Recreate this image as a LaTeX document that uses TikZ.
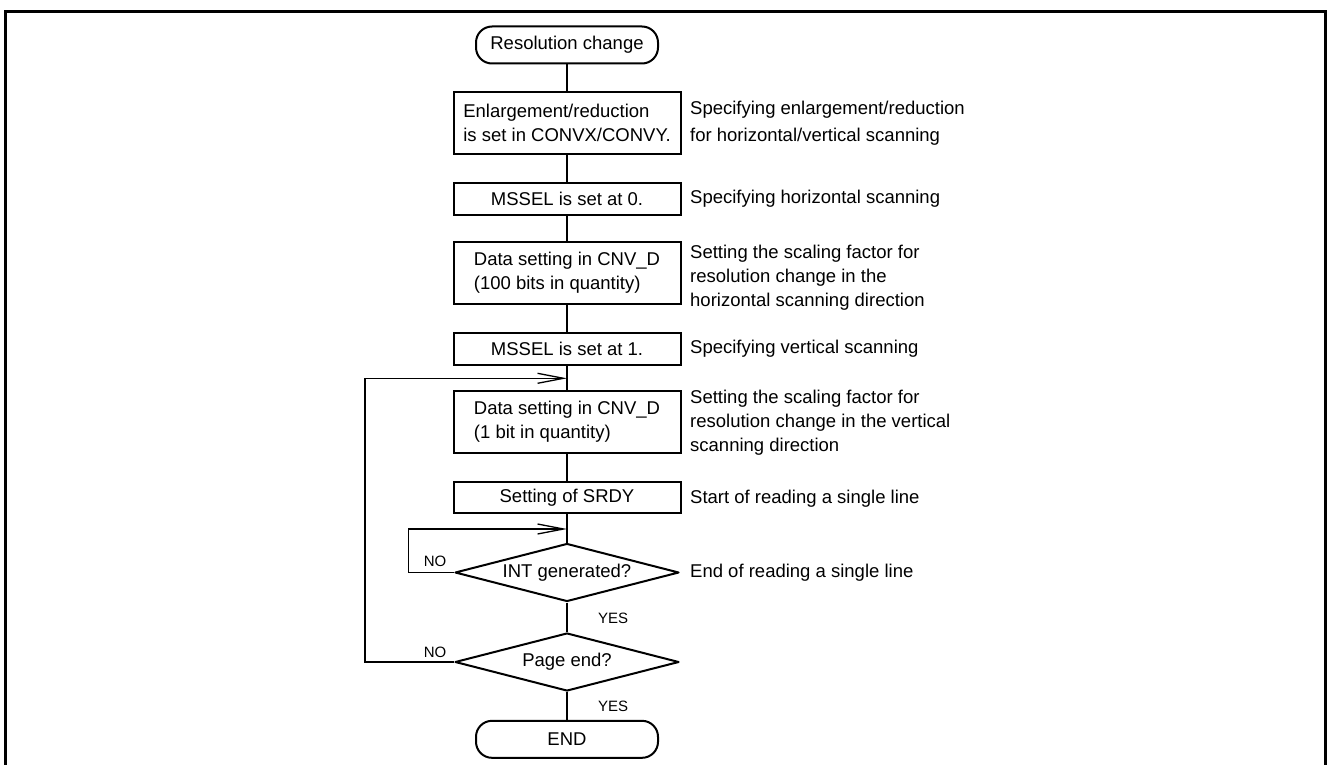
\documentclass[tikz,border=0pt]{standalone}
\usepackage{fontspec}
\setmainfont{Liberation Sans}
\usepackage{tikz}
\usetikzlibrary{positioning}
\usetikzlibrary{shapes.geometric}
\usetikzlibrary{arrows.meta}

\begin{document}
\begin{tikzpicture}[x=1pt,y=-1pt]

          \tikzstyle{termNode} = [draw, line width=2pt, rounded corners=16pt, minimum width=182pt, minimum height=37pt, inner sep=0pt, font=\fontsize{18.5}{24}\selectfont];
          \tikzstyle{stepNode} = [draw, line width=2pt, minimum width=227pt, inner sep=0pt, align=left, font=\fontsize{18.5}{24}\selectfont];
          \tikzstyle{testNode} = [draw, diamond, line width=2pt, line join=round, aspect=3.86, minimum width=224pt, minimum height=58pt, inner sep=0pt, font=\fontsize{18.5}{24}\selectfont];
          \tikzstyle{noteNode} = [anchor=west, inner sep=0pt, align=left, font=\fontsize{18.5}{24}\selectfont];
          \tikzstyle{labelNode} = [inner sep=0pt, font=\fontsize{15}{18}\selectfont];

          \tikzstyle{normalEdge} = [line width=1.3pt];
          \tikzstyle{loopEdge} = [line width=1.3pt, -{Straight Barb[length=26pt,width=10pt]}];

          \useasboundingbox (0,0) rectangle (1327,765);
          \draw[line width=3pt] (5.3,765) -- (5.3,11.3) -- (1325.5,11.3) -- (1325.5,765);

          % main column
          \node[termNode] (start) at (567,45) {Resolution change};
          \node[stepNode, minimum height=62pt] (conv) at (567,123.3) {Enlargement/reduction\\is set in CONVX/CONVY.};
          \node[stepNode, minimum height=32pt] (hsel) at (567,199.2) {MSSEL is set at 0.};
          \node[stepNode, minimum height=62pt] (hdata) at (567,273.2) {Data setting in CNV\_D\\(100 bits in quantity)};
          \node[stepNode, minimum height=32pt] (vsel) at (567,348.5) {MSSEL is set at 1.};
          \node[stepNode, minimum height=62pt] (vdata) at (567,422.2) {Data setting in CNV\_D\\(1 bit in quantity)};
          \node[stepNode, minimum height=31pt] (srdy) at (567,497.8) {Setting of SRDY};
          \node[testNode] (intq) at (567,572.5) {INT generated?};
          \node[testNode] (pageq) at (567,662) {Page end?};
          \node[termNode] (finish) at (567,739.3) {END};

          % notes on the right
          \node[noteNode] (convNote) at (690,123.3) {Specifying enlargement/reduction\\[2.7pt]for horizontal/vertical scanning};
          \node[noteNode] (hselNote) at (690,199.2) {Specifying horizontal scanning};
          \node[noteNode] (hdataNote) at (690,277.5) {Setting the scaling factor for\\resolution change in the\\horizontal scanning direction};
          \node[noteNode] (vselNote) at (690,348.5) {Specifying vertical scanning};
          \node[noteNode] (vdataNote) at (690,423) {Setting the scaling factor for\\resolution change in the vertical\\scanning direction};
          \node[noteNode] (srdyNote) at (690,498.5) {Start of reading a single line};
          \node[noteNode] (intNote) at (690,572.5) {End of reading a single line};

          % branch labels
          \node[labelNode] (intNo) at (435,561.5) {NO};
          \node[labelNode] (intYes) at (613,618) {YES};
          \node[labelNode] (pageNo) at (435,652) {NO};
          \node[labelNode] (pageYes) at (613,706.5) {YES};

          \coordinate (outerTurn) at (365,378.3);
          \coordinate (outerJoin) at (567,378.3);
          \coordinate (innerTurn) at (408.3,529);
          \coordinate (innerJoin) at (567,529);

          \draw[normalEdge] (start) -- (conv);
          \draw[normalEdge] (conv) -- (hsel);
          \draw[normalEdge] (hsel) -- (hdata);
          \draw[normalEdge] (hdata) -- (vsel);
          \draw[normalEdge] (vsel) -- (vdata);
          \draw[normalEdge] (vdata) -- (srdy);
          \draw[normalEdge] (srdy) -- (intq);
          \draw[normalEdge] (intq) -- (pageq);
          \draw[normalEdge] (pageq) -- (finish);
          \draw[loopEdge] (intq.west) -| (innerTurn) -- (innerJoin);
          \draw[loopEdge] (pageq.west) -| (outerTurn) -- (outerJoin);
        \end{tikzpicture}
\end{document}
